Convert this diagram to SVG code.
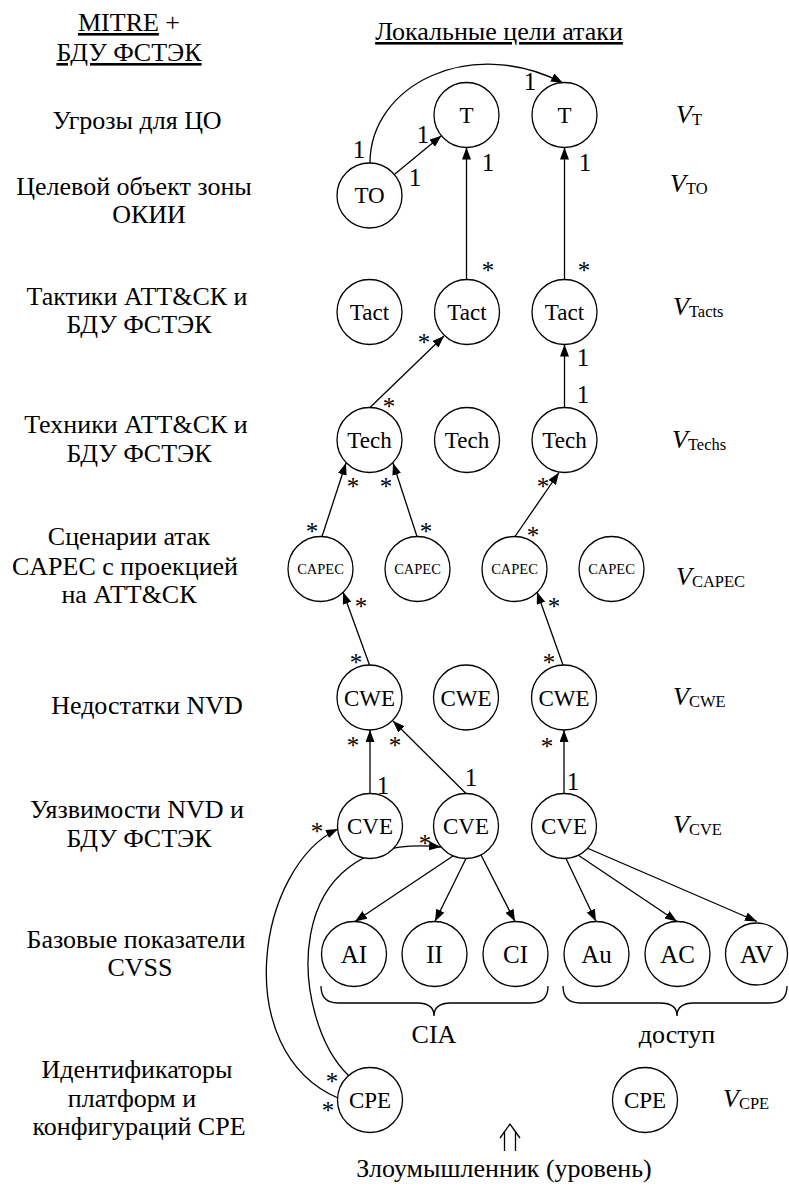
<svg xmlns="http://www.w3.org/2000/svg" width="789" height="1186" viewBox="0 0 789 1186" font-family="'Liberation Serif', serif">
  <defs>
    <marker id="arr" markerUnits="userSpaceOnUse" markerWidth="13" markerHeight="10" refX="12" refY="4.5" orient="auto">
      <path d="M0,0 L12,4.5 L0,9 z" fill="#000"/>
    </marker>
    <style>
      text { font-family: 'Liberation Serif', 'Times New Roman', serif; fill: #000; }
      .node circle { fill: #fff; stroke: #000; stroke-width: 1.3; }
      .node text { font-size: 23px; text-anchor: middle; }
      .node text.small { font-size: 14.5px; }
      .node text.big { font-size: 25px; }
      .edge { fill: none; stroke: #000; stroke-width: 1.3; marker-end: url(#arr); }
      .brace { fill: none; stroke: #000; stroke-width: 1.3; }
      .lvl { font-size: 26px; text-anchor: middle; }
      .mul { font-size: 25px; text-anchor: middle; }
      .star { font-size: 25px; text-anchor: middle; }
      .v { font-size: 26px; }
      .v .i { font-style: italic; }
      .v .s { font-size: 16.5px; }
      .u { text-decoration: underline; }
    </style>
  </defs>

  <rect width="789" height="1186" fill="#fff"/>

  <!-- column headers -->
  <g id="headers">
    <text class="lvl" x="129" y="31"><tspan class="u">MITRE</tspan> +</text>
    <text class="lvl u" x="129" y="61">БДУ ФСТЭК</text>
    <text class="lvl u" x="499" y="40">Локальные цели атаки</text>
  </g>

  <!-- level names -->
  <g id="levels">
    <text class="lvl" x="137" y="129">Угрозы для ЦО</text>
    <text class="lvl" x="134" y="195">Целевой объект зоны</text>
    <text class="lvl" x="149" y="223">ОКИИ</text>
    <text class="lvl" x="137" y="305">Тактики АТТ&amp;СК и</text>
    <text class="lvl" x="139" y="333">БДУ ФСТЭК</text>
    <text class="lvl" x="136" y="433">Техники АТТ&amp;СК и</text>
    <text class="lvl" x="139" y="462">БДУ ФСТЭК</text>
    <text class="lvl" x="129" y="545">Сценарии атак</text>
    <text class="lvl" x="125" y="575">CAPEC с проекцией</text>
    <text class="lvl" x="129" y="603">на АТТ&amp;СК</text>
    <text class="lvl" x="147" y="714">Недостатки NVD</text>
    <text class="lvl" x="137" y="818">Уязвимости NVD и</text>
    <text class="lvl" x="139" y="847">БДУ ФСТЭК</text>
    <text class="lvl" x="136" y="948">Базовые показатели</text>
    <text class="lvl" x="140" y="976">CVSS</text>
    <text class="lvl" x="137" y="1078">Идентификаторы</text>
    <text class="lvl" x="132" y="1107">платформ и</text>
    <text class="lvl" x="139" y="1135">конфигураций CPE</text>
  </g>

  <!-- vertex set names -->
  <g id="sets">
    <text class="v" x="676" y="123"><tspan class="i">V</tspan><tspan class="s" dy="2">T</tspan></text>
    <text class="v" x="670" y="192"><tspan class="i">V</tspan><tspan class="s" dy="2">TO</tspan></text>
    <text class="v" x="673" y="315"><tspan class="i">V</tspan><tspan class="s" dy="2">Tacts</tspan></text>
    <text class="v" x="672" y="448"><tspan class="i">V</tspan><tspan class="s" dy="2">Techs</tspan></text>
    <text class="v" x="676" y="585"><tspan class="i">V</tspan><tspan class="s" dy="2">CAPEC</tspan></text>
    <text class="v" x="673" y="705"><tspan class="i">V</tspan><tspan class="s" dy="2">CWE</tspan></text>
    <text class="v" x="673" y="833"><tspan class="i">V</tspan><tspan class="s" dy="2">CVE</tspan></text>
    <text class="v" x="723" y="1107"><tspan class="i">V</tspan><tspan class="s" dy="2">CPE</tspan></text>
  </g>

  <!-- connectors -->
  <g id="connectors">
    <path class="edge" d="M370,163 C370,85 470,35 563,83"/>
    <path class="edge" d="M394.6,174.3 L441.4,135.7"/>
    <path class="edge" d="M466.5,279.5 L466.5,147.5"/>
    <path class="edge" d="M564.5,279.5 L564.5,147.5"/>
    <path class="edge" d="M370,407.5 L444,336"/>
    <path class="edge" d="M564.5,407.5 L564.5,344.5"/>
    <path class="edge" d="M322,536.5 L346,463"/>
    <path class="edge" d="M417,536.5 L393,463"/>
    <path class="edge" d="M515,536.5 L559,472.5"/>
    <path class="edge" d="M369.5,665 L343,592"/>
    <path class="edge" d="M563,665 L537,592"/>
    <path class="edge" d="M370,793.5 L370,730"/>
    <path class="edge" d="M466,793.5 L393,721"/>
    <path class="edge" d="M564,793.5 L564,730"/>
    <path class="edge" d="M453,856 L355,921.5"/>
    <path class="edge" d="M466,858.5 L435,921.5"/>
    <path class="edge" d="M481,855 L515,921.5"/>
    <path class="edge" d="M566,858.5 L596,921.5"/>
    <path class="edge" d="M578,855 L677,921.5"/>
    <path class="edge" d="M587,848 L757,921.5"/>
    <path class="edge" d="M338,1098 C228,1050 258,866 338,829"/>
    <path class="edge" d="M349,1076 C290,1020 275,830 441,847"/>
  </g>

  <!-- multiplicities -->
  <g id="multiplicities">
    <text class="mul" x="359" y="158">1</text>
    <text class="mul" x="530" y="90">1</text>
    <text class="mul" x="423" y="143">1</text>
    <text class="mul" x="415" y="186">1</text>
    <text class="mul" x="488" y="171">1</text>
    <text class="mul" x="585" y="171">1</text>
    <text class="mul" x="583" y="366">1</text>
    <text class="mul" x="583" y="403">1</text>
    <text class="mul" x="383" y="794">1</text>
    <text class="mul" x="471" y="786">1</text>
    <text class="mul" x="573" y="790">1</text>
    <text class="star" x="488" y="279">*</text>
    <text class="star" x="584" y="279">*</text>
    <text class="star" x="424" y="351">*</text>
    <text class="star" x="389" y="415">*</text>
    <text class="star" x="353" y="495">*</text>
    <text class="star" x="386" y="495">*</text>
    <text class="star" x="312" y="540">*</text>
    <text class="star" x="426" y="540">*</text>
    <text class="star" x="543" y="495">*</text>
    <text class="star" x="533" y="544">*</text>
    <text class="star" x="361" y="615">*</text>
    <text class="star" x="356" y="671">*</text>
    <text class="star" x="554" y="615">*</text>
    <text class="star" x="549" y="671">*</text>
    <text class="star" x="353" y="754">*</text>
    <text class="star" x="395" y="754">*</text>
    <text class="star" x="547" y="755">*</text>
    <text class="star" x="317" y="840">*</text>
    <text class="star" x="425" y="852">*</text>
    <text class="star" x="332" y="1090">*</text>
    <text class="star" x="328" y="1119">*</text>
  </g>

  <!-- nodes -->
  <g id="t1" class="node"><circle cx="466.5" cy="115" r="32.5"/><text x="466.5" y="123">T</text></g>
  <g id="t2" class="node"><circle cx="564.5" cy="115" r="32.5"/><text x="564.5" y="123">T</text></g>
  <g id="to" class="node"><circle cx="369.5" cy="195.5" r="32.5"/><text x="369.5" y="203">TO</text></g>

  <g id="tact1" class="node"><circle cx="369.5" cy="312" r="32.5"/><text x="369.5" y="320">Tact</text></g>
  <g id="tact2" class="node"><circle cx="467" cy="312" r="32.5"/><text x="467" y="320">Tact</text></g>
  <g id="tact3" class="node"><circle cx="564.5" cy="312" r="32.5"/><text x="564.5" y="320">Tact</text></g>

  <g id="tech1" class="node"><circle cx="369.5" cy="440" r="32.5"/><text x="369.5" y="448">Tech</text></g>
  <g id="tech2" class="node"><circle cx="467" cy="440" r="32.5"/><text x="467" y="448">Tech</text></g>
  <g id="tech3" class="node"><circle cx="564.5" cy="440" r="32.5"/><text x="564.5" y="448">Tech</text></g>

  <g id="capec1" class="node"><circle cx="320.5" cy="569" r="32.5"/><text class="small" x="320.5" y="574">CAPEC</text></g>
  <g id="capec2" class="node"><circle cx="417.5" cy="569" r="32.5"/><text class="small" x="417.5" y="574">CAPEC</text></g>
  <g id="capec3" class="node"><circle cx="514.5" cy="569" r="32.5"/><text class="small" x="514.5" y="574">CAPEC</text></g>
  <g id="capec4" class="node"><circle cx="611.5" cy="569" r="32.5"/><text class="small" x="611.5" y="574">CAPEC</text></g>

  <g id="cwe1" class="node"><circle cx="369.5" cy="697.5" r="32.5"/><text x="369.5" y="705.5">CWE</text></g>
  <g id="cwe2" class="node"><circle cx="466" cy="697.5" r="32.5"/><text x="466" y="705.5">CWE</text></g>
  <g id="cwe3" class="node"><circle cx="564" cy="697.5" r="32.5"/><text x="564" y="705.5">CWE</text></g>

  <g id="cve1" class="node"><circle cx="370" cy="826" r="32.5"/><text x="370" y="834">CVE</text></g>
  <g id="cve2" class="node"><circle cx="466" cy="826" r="32.5"/><text x="466" y="834">CVE</text></g>
  <g id="cve3" class="node"><circle cx="564" cy="826" r="32.5"/><text x="564" y="834">CVE</text></g>

  <g id="ai" class="node"><circle cx="354" cy="954" r="32.5"/><text class="big" x="354" y="963">AI</text></g>
  <g id="ii" class="node"><circle cx="434.5" cy="954" r="32.5"/><text class="big" x="434.5" y="963">II</text></g>
  <g id="ci" class="node"><circle cx="515.5" cy="954" r="32.5"/><text class="big" x="515.5" y="963">CI</text></g>
  <g id="au" class="node"><circle cx="596.5" cy="954" r="32.5"/><text class="big" x="596.5" y="963">Au</text></g>
  <g id="ac" class="node"><circle cx="677.5" cy="954" r="32.5"/><text class="big" x="677.5" y="963">AC</text></g>
  <g id="av" class="node"><circle cx="756.5" cy="954" r="31"/><text class="big" x="756.5" y="963">AV</text></g>

  <g id="cpe1" class="node"><circle cx="370" cy="1100" r="32.5"/><text x="370" y="1108">CPE</text></g>
  <g id="cpe2" class="node"><circle cx="645" cy="1100" r="32.5"/><text x="645" y="1108">CPE</text></g>

  <!-- metric groups -->
  <g id="groups">
    <path class="brace" d="M321,986 Q321,1003 338,1003 L417,1003 Q434,1003 434,1016 Q434,1003 451,1003 L531,1003 Q548,1003 548,986"/>
    <path class="brace" d="M563,986 Q563,1003 580,1003 L660,1003 Q677,1003 677,1016 Q677,1003 694,1003 L770,1003 Q787,1003 787,986"/>
    <text class="lvl" x="434" y="1043">CIA</text>
    <text class="lvl" x="677" y="1043">доступ</text>
  </g>

  <!-- attacker entry -->
  <g id="attacker">
    <path class="brace" d="M500,1138 L510,1124 L520,1138 M504.5,1131 L504.5,1151 M515.5,1131 L515.5,1151"/>
    <text class="lvl" x="504" y="1177">Злоумышленник (уровень)</text>
  </g>
</svg>
